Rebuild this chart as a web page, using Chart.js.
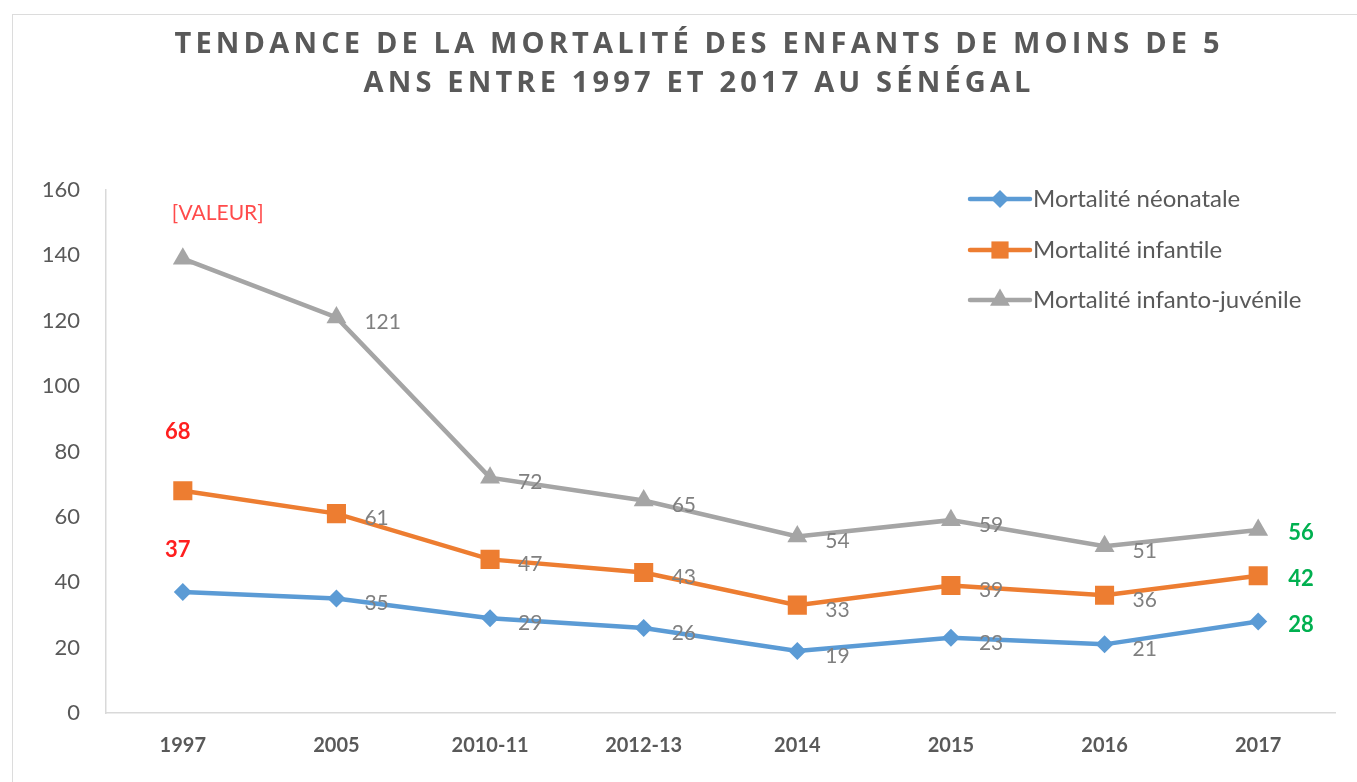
<!DOCTYPE html>
<html>
<head>
<meta charset="utf-8">
<script src="https://cdn.jsdelivr.net/npm/chart.js@4.4.1/dist/chart.umd.min.js"></script>
<style>
  html, body { margin: 0; padding: 0; background: #fff; }
  #wrap { position: relative; width: 1357px; height: 782px; overflow: hidden; }
  #card { position: absolute; left: 12px; top: 14px; right: -10px; bottom: -10px;
          border-left: 1px solid #dcdcdc; border-top: 1px solid #dcdcdc; }
  canvas { position: absolute; left: 0; top: 0; }
</style>
</head>
<body>
<div id="wrap">
  <div id="card"></div>
  <canvas id="c" width="1357" height="782"></canvas>
</div>
<script>
const titleLines = ["TENDANCE DE LA MORTALITÉ DES ENFANTS DE MOINS DE 5", "ANS ENTRE 1997 ET 2017 AU SÉNÉGAL"];
const categories = ["1997", "2005", "2010-11", "2012-13", "2014", "2015", "2016", "2017"];
const seriesNames = ["Mortalité néonatale", "Mortalité infantile", "Mortalité infanto-juvénile"];
const neonatale = [37, 35, 29, 26, 19, 23, 21, 28];
const infantile = [68, 61, 47, 43, 33, 39, 36, 42];
const infantoJuvenile = [139, 121, 72, 65, 54, 59, 51, 56];
const firstLabels = ["37", "68", "[VALEUR]"];
const yTicks = [0, 20, 40, 60, 80, 100, 120, 140, 160];

const colors = ["#5b9bd5", "#ed7d31", "#a5a5a5"];
const pointStyles = ["rectRot", "rect", "triangle"];
const pointRadii = [9, 13.5, 11.5];
const FONT = "Lato, 'Open Sans', sans-serif";

function drawMarker(ctx, style, x, y, r, color) {
  ctx.save();
  ctx.fillStyle = color;
  ctx.beginPath();
  if (style === "rectRot") {
    ctx.moveTo(x, y - r); ctx.lineTo(x + r, y); ctx.lineTo(x, y + r); ctx.lineTo(x - r, y);
  } else if (style === "rect") {
    const s = r * Math.SQRT1_2;
    ctx.rect(x - s, y - s, 2 * s, 2 * s);
  } else {
    ctx.moveTo(x, y - r);
    ctx.lineTo(x + r * 0.866, y + r * 0.5);
    ctx.lineTo(x - r * 0.866, y + r * 0.5);
  }
  ctx.closePath();
  ctx.fill();
  ctx.restore();
}

const overlay = {
  id: "overlay",
  afterDatasetsDraw(chart) {
    const ctx = chart.ctx;
    chart.data.datasets.forEach((ds, di) => {
      const meta = chart.getDatasetMeta(di);
      meta.data.forEach((pt, i) => {
        const n = meta.data.length;
        ctx.save();
        ctx.textBaseline = "middle";
        if (i === 0) {
          if (di === 2) {
            ctx.font = "21px " + FONT;
            ctx.fillStyle = "#ff4b4b";
            ctx.textAlign = "left";
            ctx.fillText(firstLabels[di], pt.x - 11, pt.y - 45);
          } else {
            ctx.font = "bold 22px " + FONT;
            ctx.fillStyle = "#ff1f1f";
            ctx.textAlign = "center";
            ctx.fillText(firstLabels[di], pt.x - 5, pt.y - (di === 1 ? 59 : 42));
          }
        } else if (i === n - 1) {
          ctx.font = "bold 22px " + FONT;
          ctx.fillStyle = "#00b050";
          ctx.textAlign = "left";
          ctx.fillText(String(ds.data[i]), pt.x + 30, pt.y + 3);
        } else {
          ctx.font = "21px " + FONT;
          ctx.fillStyle = "#808080";
          ctx.textAlign = "left";
          ctx.fillText(String(ds.data[i]), pt.x + 28, pt.y + 5);
        }
        ctx.restore();
      });
    });
  },
  afterDraw(chart) {
    const ctx = chart.ctx;
    // title with letter spacing, fitted to the reference width
    ctx.save();
    ctx.fillStyle = "#595959";
    ctx.font = "bold 29px 'Open Sans', 'Liberation Sans', sans-serif";
    ctx.textBaseline = "middle";
    const chars0 = Array.from(titleLines[0]);
    let w0 = 0;
    chars0.forEach(ch => { w0 += ctx.measureText(ch).width; });
    const spacing = Math.max(1, (1045 - w0) / (chars0.length - 1));
    const cx = 697;
    const ys = [45, 84];
    titleLines.forEach((line, li) => {
      const chars = Array.from(line);
      let w = 0;
      chars.forEach(ch => { w += ctx.measureText(ch).width; });
      w += spacing * (chars.length - 1);
      let x = cx - w / 2;
      ctx.textAlign = "left";
      chars.forEach(ch => {
        ctx.fillText(ch, x, ys[li]);
        x += ctx.measureText(ch).width + spacing;
      });
    });
    ctx.restore();
    // legend
    ctx.save();
    const lx0 = 970, lx1 = 1030;
    const lys = [199, 250, 300];
    chart.data.datasets.forEach((ds, di) => {
      const y = lys[di];
      ctx.strokeStyle = ds.borderColor;
      ctx.lineWidth = 4.5;
      ctx.lineCap = "round";
      ctx.beginPath();
      ctx.moveTo(lx0, y); ctx.lineTo(lx1, y);
      ctx.stroke();
      drawMarker(ctx, ds.pointStyle, (lx0 + lx1) / 2, y, ds.pointRadius * (di === 1 ? 0.9 : 1), ds.borderColor);
      ctx.fillStyle = "#595959";
      ctx.font = "24px " + FONT;
      ctx.textAlign = "left";
      ctx.textBaseline = "middle";
      ctx.fillText(ds.label, lx1 + 3, y);
    });
    ctx.restore();
  }
};

const seriesData = [neonatale, infantile, infantoJuvenile];
new Chart(document.getElementById("c"), {
  type: "line",
  data: {
    labels: categories,
    datasets: seriesData.map((d, i) => ({
      label: seriesNames[i],
      data: d,
      borderColor: colors[i],
      backgroundColor: colors[i],
      borderWidth: 4.5,
      pointStyle: pointStyles[i],
      pointRadius: pointRadii[i],
      pointHoverRadius: pointRadii[i],
      pointBorderWidth: 0,
      pointBackgroundColor: colors[i],
      tension: 0,
      fill: false
    }))
  },
  options: {
    responsive: false,
    animation: false,
    events: [],
    layout: { padding: { top: 190, right: 22, bottom: 0, left: 0 } },
    plugins: { legend: { display: false }, title: { display: false }, tooltip: { enabled: false } },
    scales: {
      x: {
        offset: true,
        grid: { display: false, drawTicks: false },
        border: { display: true, color: "#d9d9d9", width: 1.5 },
        ticks: { color: "#595959", font: { family: FONT, size: 20, weight: "bold" }, padding: 21, maxRotation: 0 },
        afterFit(s) { s.height = 69; }
      },
      y: {
        min: 0, max: 160,
        afterBuildTicks(s) { s.ticks = yTicks.map(v => ({ value: v })); },
        grid: { display: false, drawTicks: false },
        border: { display: true, color: "#d9d9d9", width: 1.5 },
        ticks: { color: "#595959", font: { family: FONT, size: 22 }, padding: 26 },
        afterFit(s) { s.width = 106; }
      }
    }
  },
  plugins: [overlay]
});
</script>
</body>
</html>
